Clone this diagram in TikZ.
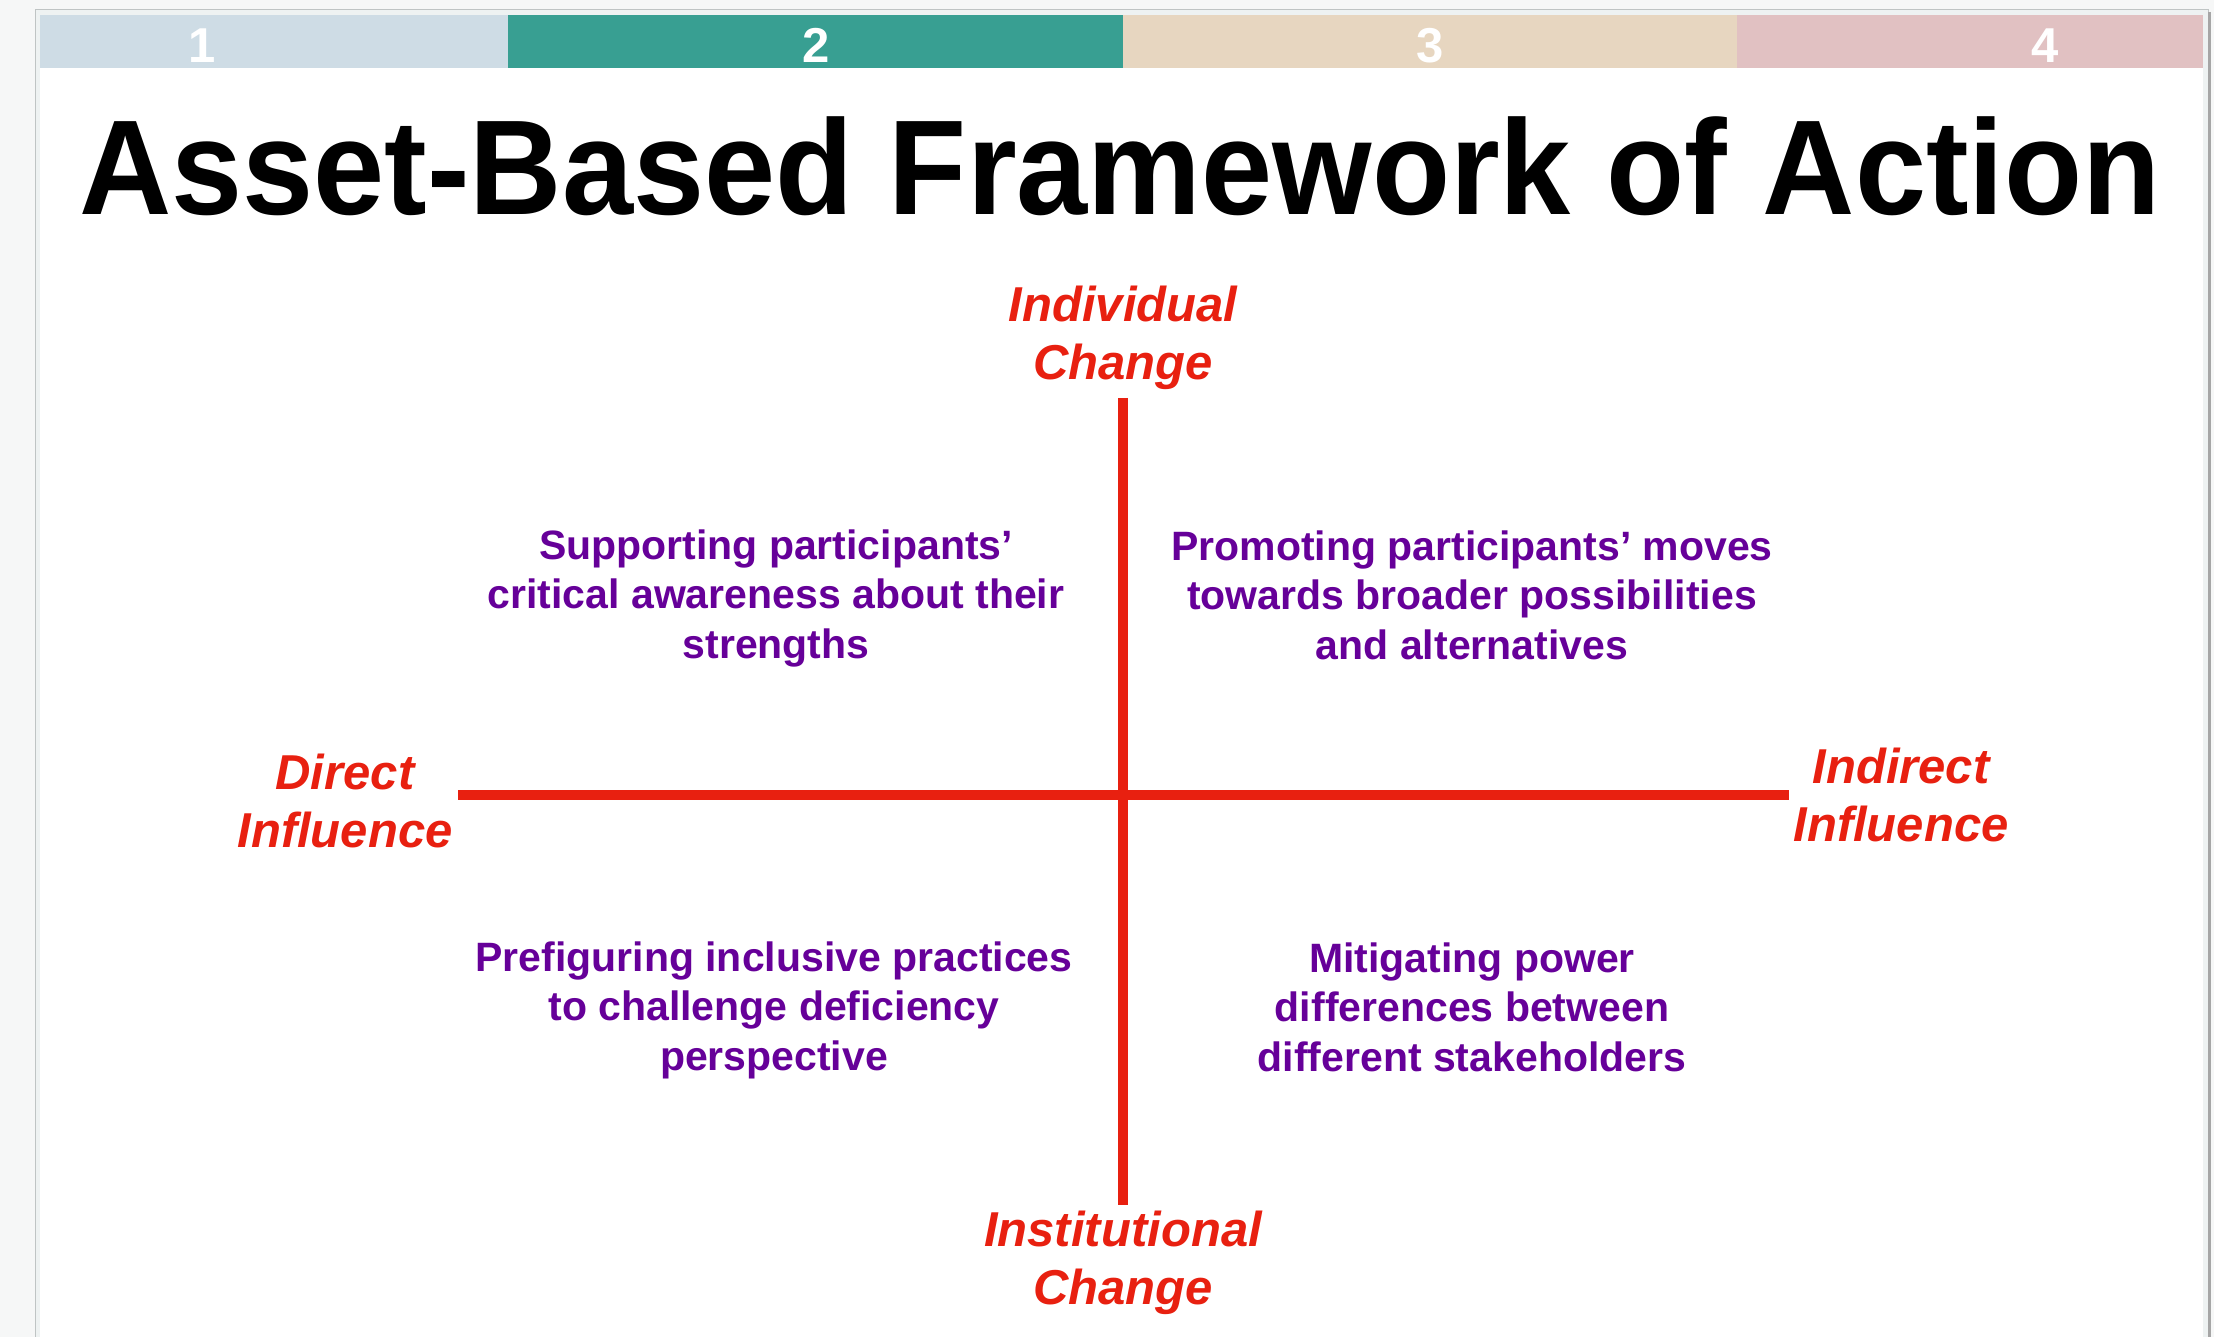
\documentclass[tikz,border=0pt]{standalone}
\usepackage{fontspec}
\setmainfont{Liberation Sans}
\usepackage{array}
\usepackage{graphicx}
\definecolor{axisred}{HTML}{E82010}
\definecolor{quadpurple}{HTML}{660099}
\definecolor{segA}{HTML}{CEDCE5}
\definecolor{segB}{HTML}{389F92}
\definecolor{segC}{HTML}{E7D6C0}
\definecolor{segD}{HTML}{E1C1C2}
\definecolor{outerbg}{HTML}{F6F7F7}
\definecolor{slideedge}{HTML}{EEF2F2}
\definecolor{frameline}{HTML}{BFC4C4}
\newcommand{\stk}[1]{\setlength{\tabcolsep}{0pt}\begin{tabular}[t]{c}#1\end{tabular}}
\begin{document}
\begin{tikzpicture}[x=1pt,y=-1pt,
  axislabel/.style={anchor=base,inner sep=0pt,text=axisred,
    font=\fontsize{49}{58}\selectfont\bfseries\itshape},
  quadtext/.style={anchor=base,inner sep=0pt,text=quadpurple,
    font=\fontsize{41}{49.5}\selectfont\bfseries},
  segnum/.style={anchor=base,inner sep=0pt,text=white,
    font=\fontsize{49}{49}\selectfont\bfseries},
  axisline/.style={draw=axisred,line width=10pt}]
\useasboundingbox (0,0) rectangle (2214,1337);
% page background and slide frame
\fill[outerbg] (0,0) rectangle (2214,1337);
\fill[slideedge,draw=frameline,line width=1pt] (35,10) rectangle (2208,1345);
\fill[white] (40,15) rectangle (2203,1345);
\draw[gray!70,line width=2.5pt] (2209.5,12) -- (2209.5,1337);
% top bar
\fill[segA] (40,15) rectangle (508,68);
\fill[segB] (508,15) rectangle (1123,68);
\fill[segC] (1123,15) rectangle (1737,68);
\fill[segD] (1737,15) rectangle (2203,68);
\node[segnum] (n1) at (202,63) {1};
\node[segnum] (n2) at (816,63) {2};
\node[segnum] (n3) at (1430,63) {3};
\node[segnum] (n4) at (2045,63) {4};
% title
\node[anchor=base,inner sep=0pt,font=\fontsize{135}{135}\selectfont\bfseries] (title) at (1120,215) {\scalebox{0.947}[1]{Asset-Based Framework of Action}};
% axis labels
\node[axislabel] (top) at (1123,322) {\stk{Individual\\Change}};
\node[axislabel] (left) at (345,789) {\stk{Direct\\Influence}};
\node[axislabel] (right) at (1901,783) {\stk{Indirect\\Influence}};
\node[axislabel] (bottom) at (1123,1246) {\stk{Institutional\\Change}};
% axes
\coordinate (vtop) at (1123,398);
\coordinate (vbot) at (1123,1205);
\coordinate (hleft) at (458,795);
\coordinate (hright) at (1789,795);
\draw[axisline] (hleft) -- (hright);
\draw[axisline] (vtop) -- (vbot);
% quadrant texts
\node[quadtext] (q1) at (776,559) {\stk{Supporting participants’\\critical awareness about their\\strengths}};
\node[quadtext] (q2) at (1472,560) {\stk{Promoting participants’ moves\\towards broader possibilities\\and alternatives}};
\node[quadtext] (q3) at (774,971) {\stk{Prefiguring inclusive practices\\to challenge deficiency\\perspective}};
\node[quadtext] (q4) at (1472,972) {\stk{Mitigating power\\differences between\\different stakeholders}};
\end{tikzpicture}
\end{document}
